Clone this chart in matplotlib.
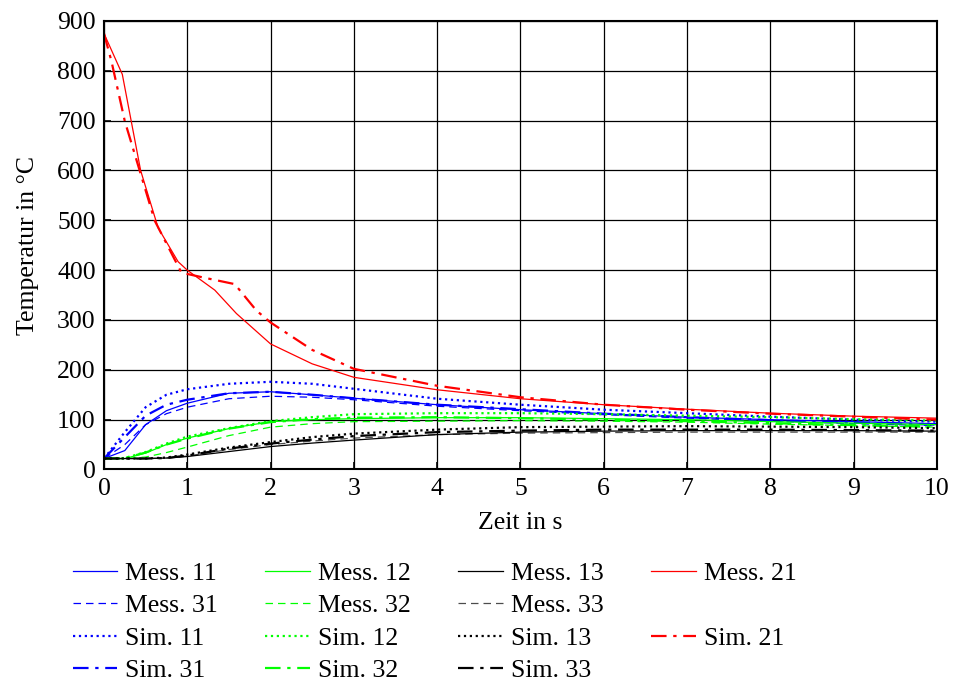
import matplotlib.pyplot as plt
from matplotlib.lines import Line2D

plt.rcParams['font.family'] = ['Liberation Serif', 'DejaVu Serif']
plt.rcParams['mathtext.fontset'] = 'stix'

# time grid for the lower curves (s)
t = [0, 0.25, 0.5, 0.75, 1, 1.5, 2, 2.5, 3, 4, 5, 6, 7, 8, 9, 10]

mess_11 = [22, 38, 90, 118, 133, 153, 156, 150, 143, 130, 120, 112, 105, 100, 96, 92]
mess_31 = [22, 50, 90, 112, 125, 142, 147, 145, 140, 127, 118, 110, 103, 97, 92, 88]
sim_11 = [22, 75, 125, 150, 161, 172, 176, 172, 162, 142, 130, 120, 113, 106, 100, 96]
sim_31 = [22, 65, 108, 130, 140, 153, 156, 150, 143, 130, 121, 112, 105, 99, 94, 90]

mess_12 = [22, 22, 33, 50, 63, 82, 96, 100, 102, 104, 104, 102, 100, 96, 93, 90]
mess_32 = [22, 22, 25, 34, 45, 68, 85, 92, 96, 97, 98, 97, 95, 91, 88, 85]
sim_12 = [22, 23, 35, 52, 66, 83, 97, 105, 111, 113, 113, 111, 108, 105, 101, 98]
sim_32 = [22, 23, 34, 50, 62, 82, 95, 101, 104, 105, 103, 100, 97, 93, 89, 86]

mess_13 = [22, 22, 22, 23, 26, 36, 46, 53, 59, 70, 75, 77, 78, 78, 78, 77]
mess_33 = [22, 22, 22, 23, 27, 40, 50, 57, 63, 70, 73, 74, 75, 75, 75, 75]
sim_13 = [22, 22, 22, 24, 30, 44, 55, 65, 72, 80, 85, 86, 87, 86, 85, 83]
sim_33 = [22, 22, 22, 23, 28, 42, 52, 60, 67, 75, 78, 80, 80, 80, 79, 78]

t_mess_21 = [0, 0.22, 0.44, 0.65, 0.89, 1.0, 1.33, 1.59, 2.0, 2.5, 3.0, 4.0, 5.0, 6.0, 7.0, 8.0, 9.0, 10.0]
mess_21 = [875, 793, 600, 485, 417, 400, 360, 313, 252, 212, 185, 160, 142, 130, 121, 113, 107, 103]
t_sim_21 = [0, 0.09, 0.25, 0.43, 0.61, 0.93, 1.2, 1.57, 1.83, 2.0, 2.5, 3.0, 4.0, 5.0, 6.0, 7.0, 8.0, 9.0, 10.0]
sim_21 = [875, 819, 699, 599, 499, 395, 385, 372, 319, 295, 240, 202, 168, 145, 130, 120, 112, 106, 100]

blue, green, black, red = '#0000ff', '#00ff00', '#000000', '#ff0000'
thin, thick = 0.9, 1.6
dash = (0, (6, 4))
dashdot = (0, (7, 3, 1.5, 3))
fs = 18.5

fig = plt.figure(figsize=(9.54, 6.84), dpi=100)
ax = fig.add_axes([0.109, 0.3136, 0.873, 0.6557])

h = {}
h['Mess. 11'], = ax.plot(t, mess_11, color=blue, lw=thin, ls='-')
h['Mess. 31'], = ax.plot(t, mess_31, color=blue, lw=thin, ls=dash)
h['Sim. 11'], = ax.plot(t, sim_11, color=blue, lw=thick, ls=':')
h['Sim. 31'], = ax.plot(t, sim_31, color=blue, lw=thick, ls=dashdot)
h['Mess. 12'], = ax.plot(t, mess_12, color=green, lw=thin, ls='-')
h['Mess. 32'], = ax.plot(t, mess_32, color=green, lw=thin, ls=dash)
h['Sim. 12'], = ax.plot(t, sim_12, color=green, lw=thick, ls=':')
h['Sim. 32'], = ax.plot(t, sim_32, color=green, lw=thick, ls=dashdot)
h['Mess. 13'], = ax.plot(t, mess_13, color=black, lw=thin, ls='-')
h['Mess. 33'], = ax.plot(t, mess_33, color=black, lw=thin, ls=dash, alpha=0.7)
h['Sim. 13'], = ax.plot(t, sim_13, color=black, lw=thick, ls=':')
h['Sim. 33'], = ax.plot(t, sim_33, color=black, lw=thick, ls=dashdot)
h['Mess. 21'], = ax.plot(t_mess_21, mess_21, color=red, lw=thin, ls='-')
h['Sim. 21'], = ax.plot(t_sim_21, sim_21, color=red, lw=thick, ls=dashdot)

ax.set_xlim(0, 10)
ax.set_ylim(0, 900)
ax.set_xticks(range(0, 11))
ax.set_yticks(range(0, 901, 100))
ax.grid(True, color='black', lw=0.9)
ax.tick_params(direction='in', labelsize=fs, length=5, width=1.2, pad=6)
for s in ax.spines.values():
    s.set_linewidth(1.5)
ax.set_xlabel('Zeit in s', fontsize=fs, labelpad=9)
ax.set_ylabel('Temperatur in °C', fontsize=fs, labelpad=13)

blank = Line2D([], [], color='none')
order = ['Mess. 11', 'Mess. 31', 'Sim. 11', 'Sim. 31',
         'Mess. 12', 'Mess. 32', 'Sim. 12', 'Sim. 32',
         'Mess. 13', 'Mess. 33', 'Sim. 13', 'Sim. 33',
         'Mess. 21', None, 'Sim. 21', None]
handles = [h[k] if k else blank for k in order]
labels = [k if k else '' for k in order]
fig.legend(handles, labels, ncol=4, loc='upper left', bbox_to_anchor=(0.076, 0.178),
           frameon=False, fontsize=fs, handlelength=1.75, handletextpad=0.3,
           columnspacing=1.85, labelspacing=0.36, borderpad=0, borderaxespad=0)

fig.savefig('out.png', dpi=100)
